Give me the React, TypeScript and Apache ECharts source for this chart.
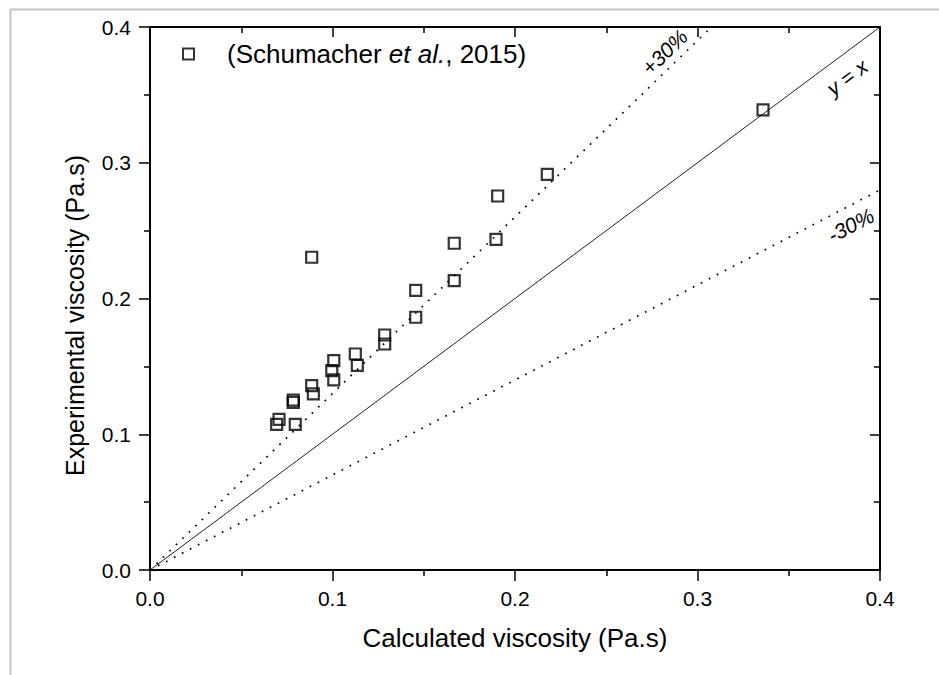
import { useEffect, useRef } from "react";
import * as echarts from "echarts";

// Calculated viscosity (Pa.s) — x values
const calculated = [
  0.0886, 0.2177, 0.1905, 0.1896, 0.1667, 0.1667, 0.1456, 0.1456, 0.1286, 0.1286,
  0.1125, 0.1136, 0.1007, 0.0996, 0.1007, 0.0886, 0.0895, 0.0785, 0.0785, 0.0707,
  0.0694, 0.0796, 0.3359,
];
// Experimental viscosity (Pa.s) — y values
const experimental = [
  0.2304, 0.2915, 0.2755, 0.2436, 0.2407, 0.2131, 0.206, 0.1862, 0.1731, 0.1665,
  0.1591, 0.1508, 0.1542, 0.1468, 0.14, 0.1358, 0.1297, 0.1252, 0.1235, 0.111,
  0.1073, 0.1073, 0.3389,
];
const axisMin = 0;
const axisMax = 0.4;
const axisStep = 0.1;
const lineFactors = [1, 1.3, 0.7];
const lineNames = ["y = x", "+30%", "-30%"];
const seriesName = "Schumacher";
const xTitle = "Calculated viscosity (Pa.s)";
const yTitle = "Experimental viscosity (Pa.s)";
// label anchor points (data coords) for line annotations
const lineLabelPos = [
  [0.382, 0.363],
  [0.282, 0.3816],
  [0.384, 0.254],
];

const FONT = "'Liberation Sans', Arial, Helvetica, sans-serif";

function lineData(f: number) {
  const xEnd = Math.min(axisMax, axisMax / f);
  return [
    [0, 0],
    [xEnd, xEnd * f],
  ];
}

export default function App() {
  const ref = useRef<HTMLDivElement>(null);
  useEffect(() => {
    if (!ref.current) return;
    const chart = echarts.init(ref.current, undefined, { renderer: "svg" });
    const GRID = { left: 150, right: 59, top: 27, bottom: 105 };
    const baseAxis = {
      type: "value" as const,
      min: axisMin,
      max: axisMax,
      interval: axisStep,
      splitLine: { show: false },
      axisLine: { show: true, onZero: false, lineStyle: { color: "#000", width: 2 } },
      minorTick: { show: true, splitNumber: 2, length: 6, lineStyle: { color: "#000", width: 1.5 } },
      minorSplitLine: { show: false },
    };
    const tickLabel = {
      fontSize: 21,
      color: "#000",
      fontFamily: FONT,
      formatter: (v: number) => v.toFixed(1),
    };
    const option: any = {
      animation: false,
      backgroundColor: "#fff",
      grid: GRID,
      xAxis: [
        {
          ...baseAxis,
          position: "bottom",
          axisTick: { show: true, inside: false, length: 11, lineStyle: { color: "#000", width: 1.5 } },
          axisLabel: { ...tickLabel, margin: 18 },
        },
        {
          ...baseAxis,
          position: "top",
          axisTick: { show: true, inside: true, length: 10, lineStyle: { color: "#000", width: 1.5 } },
          axisLabel: { show: false },
        },
      ],
      yAxis: [
        {
          ...baseAxis,
          position: "left",
          axisTick: { show: true, inside: false, length: 11, lineStyle: { color: "#000", width: 1.5 } },
          axisLabel: { ...tickLabel, margin: 19 },
        },
        {
          ...baseAxis,
          position: "right",
          axisTick: { show: true, inside: true, length: 10, lineStyle: { color: "#000", width: 1.5 } },
          axisLabel: { show: false },
        },
      ],
      legend: {
        show: true,
        left: 177,
        top: 36,
        itemWidth: 11,
        itemHeight: 11,
        data: [{ name: seriesName, icon: "rect" }],
        itemStyle: { color: "rgba(0,0,0,0)", borderColor: "#000", borderWidth: 2 },
        formatter: () => "{n|(Schumacher }{i|et al.}{n|, 2015)}",
        textStyle: {
          padding: [0, 0, 0, 28],
          rich: {
            n: { fontSize: 26, fontFamily: FONT, color: "#000", lineHeight: 28 },
            i: { fontSize: 26, fontFamily: FONT, color: "#000", fontStyle: "italic", lineHeight: 28 },
          },
        },
      },
      series: [
        ...lineFactors.map((f, i) => ({
          type: "line",
          name: lineNames[i],
          data: lineData(f),
          symbol: "none",
          silent: true,
          lineStyle:
            f === 1
              ? { color: "#222", width: 1, type: "solid" }
              : { color: "#000", width: 1.7, type: [1.7, 7.3] },
          z: 1,
        })),
        {
          type: "scatter",
          name: seriesName,
          data: calculated.map((x, i) => [x, experimental[i]]),
          symbol: "rect",
          symbolSize: 11,
          itemStyle: { color: "rgba(0,0,0,0)", borderColor: "#000", borderWidth: 2.2 },
          z: 3,
        },
      ],
    };
    chart.setOption(option);

    // annotations placed through the chart's own coordinate system
    const angleOf = (f: number) => {
      const p0 = chart.convertToPixel({ gridIndex: 0 }, [0, 0]) as number[];
      const p1 = chart.convertToPixel({ gridIndex: 0 }, [0.2, 0.2 * f]) as number[];
      return Math.atan2(p0[1] - p1[1], p1[0] - p0[0]);
    };
    const plotMid = chart.convertToPixel({ gridIndex: 0 }, [axisMax / 2, axisMax / 2]) as number[];
    const bottomPx = (chart.convertToPixel({ gridIndex: 0 }, [0, 0]) as number[])[1];
    const graphic: any[] = [
      { type: "line", shape: { x1: 10, y1: 9.5, x2: 939, y2: 9.5 }, style: { stroke: "#c4c4c4", lineWidth: 2 }, silent: true },
      { type: "line", shape: { x1: 10.5, y1: 9, x2: 10.5, y2: 675 }, style: { stroke: "#c4c4c4", lineWidth: 2 }, silent: true },
      {
        type: "text",
        x: plotMid[0],
        y: bottomPx + 68,
        style: { text: xTitle, fontSize: 26, fontFamily: FONT, fill: "#000", align: "center", verticalAlign: "middle" },
      },
      {
        type: "text",
        x: 75,
        y: plotMid[1] + 17,
        rotation: Math.PI / 2,
        style: { text: yTitle, fontSize: 25, fontFamily: FONT, fill: "#000", align: "center", verticalAlign: "middle" },
      },
      ...lineFactors.map((f, i) => {
        const p = chart.convertToPixel({ gridIndex: 0 }, lineLabelPos[i]) as number[];
        return {
          type: "text",
          x: p[0],
          y: p[1],
          rotation: angleOf(f),
          style: {
            text: lineNames[i],
            fontSize: 21,
            fontStyle: "italic",
            fontFamily: FONT,
            fill: "#000",
            align: "center",
            verticalAlign: "middle",
          },
          z: 10,
        };
      }),
    ];
    chart.setOption({ graphic });
    return () => chart.dispose();
  }, []);
  return (
    <div
      ref={ref}
      style={{ position: "absolute", left: 0, top: 0, width: 939, height: 675 }}
    />
  );
}
